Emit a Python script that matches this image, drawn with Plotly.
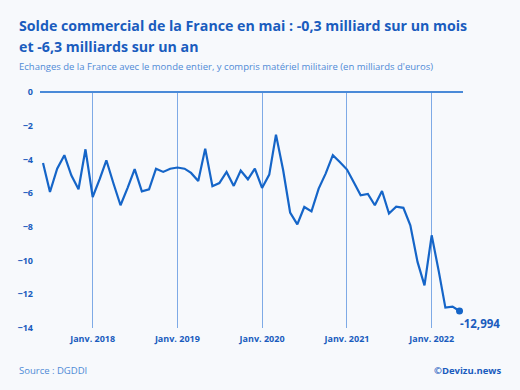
import plotly.graph_objects as go
import pandas as pd

# Monthly trade balance, June 2017 -> May 2022 (billions of euros)
months = pd.date_range("2017-06-01", "2022-05-01", freq="MS").strftime("%Y-%m-%d").tolist()
values = [
    -4.21, -5.93, -4.55, -3.75, -4.94, -5.77, -3.40,            # Jun-Dec 2017
    -6.23, -5.14, -4.05, -5.44, -6.72, -5.67, -4.58, -5.89, -5.77, -4.55, -4.74, -4.55,  # 2018
    -4.48, -4.55, -4.80, -5.28, -3.36, -5.59, -5.40, -4.74, -5.57, -4.66, -5.18, -4.55,  # 2019
    -5.69, -4.90, -2.53, -4.64, -7.15, -7.85, -6.82, -7.08, -5.73, -4.84, -3.75, -4.15,  # 2020
    -4.60, -5.40, -6.13, -6.05, -6.72, -5.87, -7.21, -6.80, -6.87, -7.91, -10.08, -11.47,  # 2021
    -8.50, -10.67, -12.79, -12.73, -12.994,                      # Jan-May 2022
]
tick_vals = ["2018-01-01", "2019-01-01", "2020-01-01", "2021-01-01", "2022-01-01"]
tick_text = ["Janv. 2018", "Janv. 2019", "Janv. 2020", "Janv. 2021", "Janv. 2022"]
y_ticks = [0, -2, -4, -6, -8, -10, -12, -14]
last_label = "-12,994"

DARK = "#1a5cbe"
LINE = "#1565c8"
GRID = "#7eaae6"
LIGHT = "#4f8ad6"
BG = "#f7f9fc"
FONT = "Open Sans"

fig = go.Figure()
fig.add_trace(go.Scatter(
    x=months, y=values, mode="lines",
    line=dict(color=LINE, width=2.2), hoverinfo="skip", showlegend=False,
))
fig.add_trace(go.Scatter(
    x=[months[-1]], y=[values[-1]], mode="markers",
    marker=dict(color=LINE, size=7), hoverinfo="skip", showlegend=False,
))

fig.update_layout(
    width=520, height=390,
    paper_bgcolor=BG, plot_bgcolor=BG,
    margin=dict(l=40, r=57, t=92, b=62, autoexpand=False),
    font=dict(family=FONT, color=DARK),
    xaxis=dict(
        range=["2017-05-19", "2022-05-16"], automargin=False,
        tickvals=tick_vals, ticktext=tick_text,
        showgrid=True, gridcolor=GRID, gridwidth=1,
        zeroline=False, showline=False, ticks="", ticklabelstandoff=4,
        tickfont=dict(family=FONT, size=9, color=DARK, weight="bold"),
    ),
    yaxis=dict(
        range=[-14, 0], tickvals=y_ticks, automargin=False,
        showgrid=False, zeroline=True, zerolinecolor="#4a8ad8", zerolinewidth=2.2,
        showline=False, ticks="", ticklabelstandoff=6,
        tickfont=dict(family=FONT, size=9, color=DARK, weight="bold"),
    ),
    annotations=[
        dict(text="Solde commercial de la France en mai : -0,3 milliard sur un mois",
             xref="paper", yref="paper", x=-0.054, y=1.2826, xanchor="left", yanchor="middle",
             showarrow=False,
             font=dict(family=FONT, size=14.2, color=DARK, weight="bold")),
        dict(text="et -6,3 milliards sur un an",
             xref="paper", yref="paper", x=-0.054, y=1.1936, xanchor="left", yanchor="middle",
             showarrow=False,
             font=dict(family=FONT, size=14.2, color=DARK, weight="bold")),
        dict(text="Echanges de la France avec le monde entier, y compris matériel militaire (en milliards d'euros)",
             xref="paper", yref="paper", x=-0.054, y=1.1089, xanchor="left", yanchor="middle",
             showarrow=False,
             font=dict(family=FONT, size=9.5, color=LIGHT)),
        dict(text=last_label, x=months[-1], y=values[-1], xref="x", yref="y",
             xanchor="left", yanchor="top", xshift=-2, yshift=-3, showarrow=False,
             font=dict(family=FONT, size=11.5, color=DARK, weight="bold")),
        dict(text="Source : DGDDI", xref="paper", yref="paper", x=-0.054, y=0,
             xanchor="left", yanchor="top", yshift=-34, showarrow=False,
             font=dict(family=FONT, size=9.5, color=LIGHT)),
        dict(text="©Devizu.news", xref="paper", yref="paper", x=1.0946, y=0,
             xanchor="right", yanchor="top", yshift=-34, showarrow=False,
             font=dict(family=FONT, size=9.5, color=DARK, weight="bold")),
    ],
)

fig.write_html(
    "out.html",
    config={"displayModeBar": False},
    post_script="document.body.style.margin='0';document.body.style.background='#f7f9fc';",
)
